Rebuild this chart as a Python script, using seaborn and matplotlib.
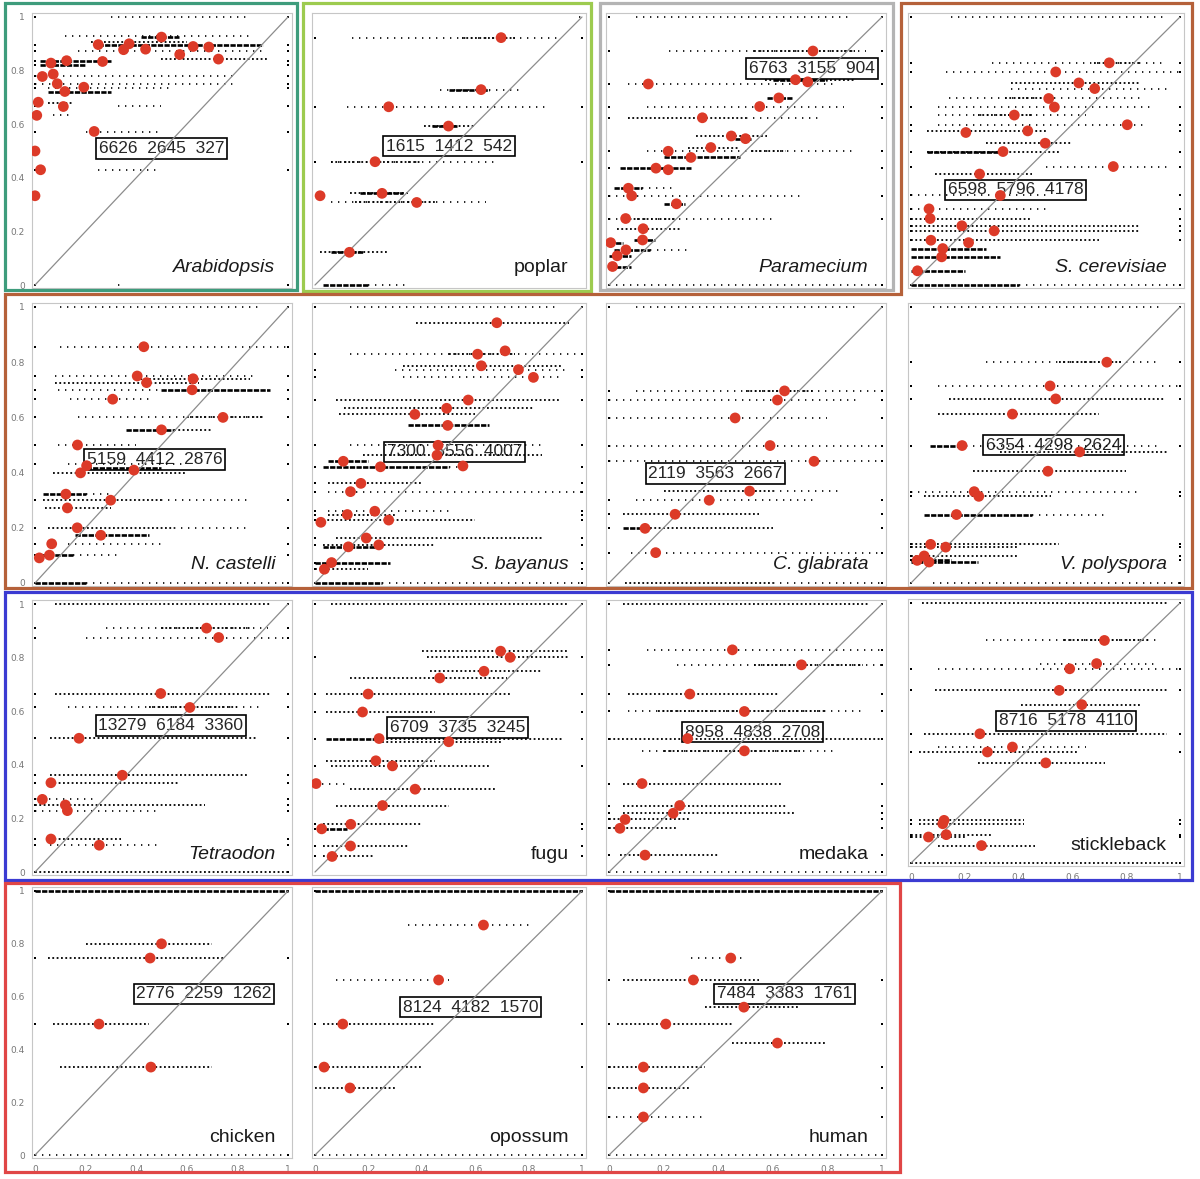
import matplotlib
matplotlib.use("Agg")
import matplotlib.pyplot as plt
from matplotlib.patches import Rectangle, Polygon
import seaborn as sns

sns.set_style("white")
plt.rcParams["font.family"] = ["DejaVu Sans"]

# ------------------ Dados ------------------ #
# linhas de pontos pretos: (y, x0, x1, densidade 0/1/2, pontos nas bordas 0/1)

ara_red_x = [0.50, 0.25, 0.372, 0.35, 0.437, 0.625, 0.687, 0.572, 0.725, 0.063, 0.125, 0.267,
             0.029, 0.072, 0.088, 0.118, 0.193, 0.112, 0.013, 0.007, 0.234, 0.0, 0.022, 0.0]
ara_red_y = [0.925, 0.897, 0.90, 0.878, 0.88, 0.89, 0.888, 0.86, 0.843, 0.828, 0.837, 0.834,
             0.778, 0.787, 0.751, 0.722, 0.738, 0.666, 0.682, 0.633, 0.573, 0.50, 0.43, 0.333]
ara_rows = [(1.0, 0.3, 0.85, 0, 1), (0.93, 0.12, 0.85, 0, 0), (0.925, 0.42, 0.57, 2, 0),
            (0.905, 0.22, 0.6, 1, 0), (0.895, 0.25, 0.9, 2, 1), (0.875, 0.17, 0.9, 0, 1),
            (0.843, 0.5, 0.92, 1, 0), (0.835, 0.02, 0.3, 2, 1), (0.82, 0.02, 0.2, 2, 1),
            (0.78, 0.0, 0.8, 0, 1), (0.75, 0.0, 0.8, 0, 1), (0.735, 0.05, 0.55, 0, 1),
            (0.72, 0.05, 0.3, 2, 0), (0.68, 0.05, 0.15, 1, 0), (0.667, 0.33, 0.5, 0, 1),
            (0.635, 0.07, 0.14, 0, 0), (0.57, 0.2, 0.5, 0, 1), (0.43, 0.25, 0.5, 0, 1),
            (0.0, 0.33, 0.34, 0, 1)]
ara_counts = [6626, 2645, 327]

pop_red_x = [0.697, 0.622, 0.276, 0.50, 0.225, 0.019, 0.251, 0.381, 0.129]
pop_red_y = [0.923, 0.729, 0.665, 0.593, 0.46, 0.333, 0.342, 0.308, 0.122]
pop_rows = [(1.0, 0.99, 1.0, 0, 0), (0.923, 0.14, 0.92, 0, 1), (0.923, 0.55, 0.75, 1, 0),
            (0.729, 0.47, 0.78, 0, 0), (0.729, 0.5, 0.65, 2, 0), (0.665, 0.12, 0.88, 0, 1),
            (0.593, 0.41, 0.6, 1, 0), (0.593, 0.44, 0.53, 2, 0), (0.46, 0.06, 0.67, 0, 1),
            (0.46, 0.06, 0.4, 1, 0), (0.342, 0.13, 0.35, 1, 0), (0.342, 0.17, 0.33, 2, 0),
            (0.308, 0.06, 0.64, 0, 0), (0.308, 0.15, 0.45, 1, 0), (0.122, 0.02, 0.27, 1, 0),
            (0.122, 0.06, 0.18, 2, 0), (0.0, 0.03, 0.2, 2, 0), (0.0, 0.2, 0.35, 0, 0)]
pop_counts = [1615, 1412, 542]

par_red_x = [0.747, 0.683, 0.728, 0.144, 0.622, 0.552, 0.342, 0.448, 0.50, 0.373, 0.217, 0.30,
             0.172, 0.217, 0.071, 0.083, 0.247, 0.061, 0.125, 0.123, 0.006, 0.062, 0.03, 0.013]
par_red_y = [0.873, 0.766, 0.758, 0.75, 0.698, 0.666, 0.624, 0.556, 0.546, 0.513, 0.499, 0.476,
             0.436, 0.43, 0.361, 0.333, 0.303, 0.248, 0.21, 0.168, 0.158, 0.131, 0.109, 0.069]
par_rows = [(1.0, 0.1, 0.88, 0, 1), (0.873, 0.22, 0.94, 0, 1), (0.873, 0.53, 0.9, 1, 0),
            (0.766, 0.57, 0.9, 1, 0), (0.766, 0.6, 0.8, 2, 0), (0.75, 0.07, 0.82, 0, 1),
            (0.698, 0.58, 0.67, 2, 0), (0.666, 0.14, 0.86, 0, 1), (0.624, 0.07, 0.5, 1, 1),
            (0.624, 0.5, 0.78, 0, 0), (0.556, 0.32, 0.58, 1, 0), (0.546, 0.46, 0.52, 2, 0),
            (0.513, 0.29, 0.48, 1, 0), (0.499, 0.14, 0.89, 0, 1), (0.499, 0.52, 0.65, 1, 0),
            (0.476, 0.2, 0.48, 2, 0), (0.436, 0.04, 0.3, 2, 1), (0.361, 0.02, 0.12, 2, 0),
            (0.361, 0.12, 0.25, 0, 0), (0.333, 0.0, 0.7, 0, 1), (0.303, 0.2, 0.28, 2, 0),
            (0.248, 0.0, 0.6, 0, 1), (0.248, 0.06, 0.25, 1, 0), (0.21, 0.03, 0.26, 1, 0),
            (0.168, 0.09, 0.17, 2, 0), (0.158, 0.0, 0.05, 2, 0), (0.131, 0.02, 0.15, 2, 0),
            (0.131, 0.15, 0.3, 0, 0), (0.109, 0.0, 0.08, 2, 0), (0.069, 0.0, 0.08, 2, 0),
            (0.0, 0.0, 1.0, 0, 1)]
par_counts = [6763, 3155, 904]

sce_red_x = [0.737, 0.538, 0.624, 0.683, 0.512, 0.533, 0.384, 0.804, 0.204, 0.434, 0.499, 0.342,
             0.752, 0.255, 0.332, 0.067, 0.071, 0.189, 0.309, 0.074, 0.214, 0.118, 0.114, 0.024]
sce_red_y = [0.829, 0.795, 0.754, 0.733, 0.696, 0.664, 0.634, 0.598, 0.569, 0.575, 0.529, 0.498,
             0.442, 0.414, 0.334, 0.284, 0.248, 0.221, 0.202, 0.167, 0.158, 0.136, 0.105, 0.053]
sce_rows = [(1.0, 0.15, 0.95, 0, 1), (0.829, 0.3, 0.95, 0, 1), (0.829, 0.68, 0.85, 1, 0),
            (0.795, 0.13, 1.0, 0, 1), (0.754, 0.37, 0.85, 1, 0), (0.733, 0.37, 0.95, 0, 0),
            (0.696, 0.14, 0.85, 0, 0), (0.696, 0.35, 0.5, 1, 0), (0.664, 0.1, 0.9, 0, 1),
            (0.634, 0.1, 0.65, 0, 0), (0.634, 0.25, 0.45, 1, 0), (0.598, 0.1, 0.87, 0, 1),
            (0.575, 0.06, 0.5, 1, 1), (0.529, 0.28, 0.6, 1, 0), (0.498, 0.06, 0.55, 1, 1),
            (0.498, 0.06, 0.35, 2, 0), (0.442, 0.5, 0.95, 0, 1), (0.414, 0.09, 0.45, 1, 0),
            (0.334, 0.0, 0.5, 0, 1), (0.284, 0.0, 0.5, 0, 1), (0.248, 0.0, 0.45, 1, 1),
            (0.221, 0.0, 0.85, 1, 1), (0.202, 0.0, 0.85, 1, 1), (0.167, 0.0, 0.7, 1, 1),
            (0.136, 0.0, 0.28, 2, 0), (0.105, 0.0, 0.33, 2, 0), (0.053, 0.0, 0.2, 2, 0),
            (0.0, 0.0, 0.4, 2, 1), (0.0, 0.4, 1.0, 0, 0)]
sce_counts = [6598, 5796, 4178]

nca_red_x = [0.43, 0.404, 0.441, 0.625, 0.621, 0.307, 0.743, 0.50, 0.168, 0.204, 0.18, 0.391,
             0.122, 0.299, 0.128, 0.167, 0.26, 0.066, 0.057, 0.017]
nca_red_y = [0.856, 0.75, 0.726, 0.74, 0.70, 0.666, 0.60, 0.555, 0.50, 0.425, 0.399, 0.409,
             0.322, 0.30, 0.272, 0.20, 0.173, 0.142, 0.101, 0.091]
nca_rows = [(1.0, 0.1, 0.9, 0, 1), (0.856, 0.1, 1.0, 0, 1), (0.75, 0.08, 0.88, 0, 1),
            (0.74, 0.4, 0.85, 1, 0), (0.726, 0.08, 0.65, 1, 0), (0.70, 0.09, 0.5, 0, 1),
            (0.70, 0.5, 0.93, 2, 0), (0.666, 0.14, 0.45, 0, 1), (0.60, 0.17, 0.9, 0, 1),
            (0.60, 0.6, 0.9, 1, 0), (0.555, 0.36, 0.55, 2, 0), (0.555, 0.55, 0.7, 1, 0),
            (0.50, 0.09, 0.4, 0, 1), (0.43, 0.13, 0.6, 0, 1), (0.415, 0.2, 0.5, 2, 0),
            (0.40, 0.07, 0.6, 1, 0), (0.322, 0.03, 0.2, 2, 0), (0.322, 0.2, 0.3, 0, 0),
            (0.30, 0.03, 0.5, 1, 1), (0.30, 0.5, 0.85, 0, 0), (0.272, 0.04, 0.3, 1, 0),
            (0.20, 0.05, 0.55, 1, 1), (0.20, 0.55, 0.85, 0, 0), (0.173, 0.16, 0.45, 2, 0),
            (0.142, 0.13, 0.5, 0, 1), (0.10, 0.0, 0.15, 2, 1), (0.10, 0.15, 0.33, 0, 0),
            (0.0, 0.0, 0.2, 2, 1), (0.0, 0.2, 1.0, 0, 0)]
nca_counts = [5159, 4412, 2876]

sba_red_x = [0.681, 0.609, 0.712, 0.623, 0.762, 0.818, 0.574, 0.493, 0.374, 0.497, 0.461, 0.457,
             0.554, 0.106, 0.245, 0.172, 0.133, 0.224, 0.121, 0.276, 0.022, 0.192, 0.239, 0.125,
             0.062, 0.035]
sba_red_y = [0.943, 0.829, 0.841, 0.787, 0.773, 0.745, 0.663, 0.633, 0.611, 0.571, 0.499, 0.463,
             0.424, 0.441, 0.421, 0.361, 0.331, 0.26, 0.248, 0.228, 0.22, 0.163, 0.138, 0.131,
             0.074, 0.05]
sba_rows = [(1.0, 0.13, 0.9, 0, 1), (0.943, 0.38, 0.95, 1, 0), (0.829, 0.13, 1.0, 0, 1),
            (0.829, 0.5, 0.75, 1, 0), (0.787, 0.33, 0.93, 1, 0), (0.773, 0.3, 0.95, 0, 1),
            (0.745, 0.33, 0.92, 0, 1), (0.663, 0.08, 0.92, 1, 1), (0.633, 0.11, 0.82, 1, 0),
            (0.611, 0.09, 0.6, 1, 0), (0.571, 0.35, 0.65, 2, 0), (0.499, 0.13, 0.85, 0, 1),
            (0.463, 0.18, 0.85, 1, 0), (0.441, 0.05, 0.2, 2, 0), (0.421, 0.03, 0.5, 2, 1),
            (0.421, 0.5, 0.55, 0, 0), (0.361, 0.05, 0.4, 1, 1), (0.331, 0.05, 1.0, 0, 1),
            (0.26, 0.05, 0.5, 0, 1), (0.248, 0.05, 0.3, 1, 1), (0.228, 0.03, 0.6, 1, 1),
            (0.163, 0.08, 0.85, 1, 1), (0.138, 0.03, 0.45, 1, 1), (0.131, 0.03, 0.25, 2, 0),
            (0.074, 0.0, 0.28, 2, 1), (0.05, 0.0, 0.2, 1, 1), (0.0, 0.0, 0.25, 2, 1),
            (0.0, 0.25, 1.0, 0, 0)]
sba_counts = [7300, 5556, 4007]

cgl_red_x = [0.643, 0.617, 0.462, 0.59, 0.751, 0.515, 0.367, 0.242, 0.132, 0.171]
cgl_red_y = [0.696, 0.663, 0.598, 0.498, 0.441, 0.333, 0.30, 0.249, 0.198, 0.11]
cgl_rows = [(1.0, 0.1, 0.92, 0, 1), (0.696, 0.1, 1.0, 0, 1), (0.696, 0.5, 0.75, 1, 0),
            (0.663, 0.0, 0.92, 0, 1), (0.598, 0.0, 0.8, 0, 1), (0.498, 0.0, 1.0, 0, 1),
            (0.441, 0.0, 1.0, 0, 1), (0.333, 0.2, 0.6, 1, 0), (0.333, 0.6, 0.85, 0, 0),
            (0.30, 0.1, 0.75, 0, 1), (0.249, 0.05, 0.55, 1, 1), (0.198, 0.05, 0.15, 2, 1),
            (0.198, 0.15, 0.6, 1, 0), (0.11, 0.08, 1.0, 0, 1), (0.0, 0.06, 0.6, 1, 0),
            (0.0, 0.6, 1.0, 0, 1)]
cgl_counts = [2119, 3563, 2667]

vpo_red_x = [0.728, 0.517, 0.538, 0.377, 0.19, 0.627, 0.509, 0.235, 0.252, 0.169, 0.073, 0.129,
             0.049, 0.023, 0.067]
vpo_red_y = [0.80, 0.714, 0.667, 0.612, 0.498, 0.475, 0.405, 0.331, 0.314, 0.248, 0.14, 0.13,
             0.098, 0.082, 0.076]
vpo_rows = [(1.0, 0.08, 0.93, 0, 1), (0.80, 0.28, 0.93, 0, 1), (0.80, 0.55, 0.78, 1, 0),
            (0.714, 0.1, 1.0, 0, 1), (0.667, 0.14, 0.94, 1, 1), (0.612, 0.1, 0.7, 1, 0),
            (0.498, 0.07, 0.18, 2, 1), (0.498, 0.18, 0.92, 0, 0), (0.475, 0.33, 0.95, 1, 0),
            (0.405, 0.23, 0.8, 1, 0), (0.331, 0.0, 0.85, 0, 1), (0.314, 0.05, 0.52, 1, 1),
            (0.248, 0.05, 0.45, 2, 0), (0.248, 0.45, 0.72, 0, 0), (0.14, 0.0, 0.55, 1, 1),
            (0.13, 0.0, 0.4, 1, 1), (0.098, 0.0, 0.4, 1, 1), (0.082, 0.0, 0.15, 2, 1),
            (0.076, 0.0, 0.25, 2, 0), (0.0, 0.08, 1.0, 0, 1)]
vpo_counts = [6354, 4298, 2624]

tet_red_x = [0.678, 0.726, 0.497, 0.612, 0.174, 0.345, 0.063, 0.029, 0.12, 0.128, 0.063, 0.254]
tet_red_y = [0.91, 0.875, 0.666, 0.614, 0.499, 0.361, 0.333, 0.271, 0.25, 0.229, 0.123, 0.10]
tet_rows = [(1.0, 0.08, 0.93, 1, 1), (0.91, 0.28, 0.92, 0, 1), (0.91, 0.5, 0.85, 1, 0),
            (0.875, 0.2, 1.0, 0, 1), (0.666, 0.08, 0.93, 1, 1), (0.614, 0.13, 0.9, 0, 1),
            (0.614, 0.45, 0.8, 1, 0), (0.499, 0.06, 0.88, 1, 1), (0.361, 0.06, 0.84, 1, 1),
            (0.333, 0.06, 0.57, 1, 1), (0.271, 0.0, 0.25, 0, 1), (0.25, 0.0, 0.67, 1, 1),
            (0.229, 0.0, 0.5, 0, 1), (0.123, 0.06, 0.34, 1, 1), (0.10, 0.06, 0.5, 0, 1),
            (0.0, 0.0, 1.0, 1, 1)]
tet_counts = [13279, 6184, 3360]

fug_red_x = [0.695, 0.731, 0.633, 0.467, 0.199, 0.178, 0.24, 0.501, 0.228, 0.29, 0.004, 0.375,
             0.253, 0.134, 0.025, 0.133, 0.064]
fug_red_y = [0.824, 0.801, 0.749, 0.724, 0.664, 0.597, 0.498, 0.486, 0.415, 0.396, 0.33, 0.309,
             0.248, 0.178, 0.161, 0.097, 0.058]
fug_rows = [(1.0, 0.06, 0.95, 1, 1), (0.824, 0.4, 0.95, 1, 0), (0.801, 0.42, 0.95, 1, 1),
            (0.749, 0.43, 0.85, 1, 0), (0.724, 0.13, 0.72, 1, 0), (0.664, 0.04, 0.73, 1, 1),
            (0.597, 0.04, 0.45, 1, 1), (0.498, 0.04, 0.25, 2, 1), (0.498, 0.25, 0.93, 1, 0),
            (0.486, 0.25, 0.7, 1, 0), (0.415, 0.04, 0.45, 1, 0), (0.396, 0.06, 0.65, 1, 1),
            (0.33, 0.0, 0.13, 0, 0), (0.309, 0.13, 0.68, 1, 0), (0.248, 0.08, 0.5, 1, 0),
            (0.178, 0.03, 0.4, 1, 1), (0.161, 0.03, 0.12, 2, 1), (0.097, 0.03, 0.35, 1, 1),
            (0.058, 0.03, 0.22, 1, 1)]
fug_counts = [6709, 3735, 3245]

med_red_x = [0.452, 0.705, 0.296, 0.496, 0.288, 0.496, 0.121, 0.259, 0.235, 0.059, 0.04, 0.132]
med_red_y = [0.829, 0.773, 0.664, 0.599, 0.498, 0.452, 0.33, 0.248, 0.219, 0.196, 0.163, 0.063]
med_rows = [(1.0, 0.05, 0.95, 1, 1), (0.829, 0.14, 1.0, 0, 1), (0.773, 0.25, 1.0, 0, 1),
            (0.773, 0.53, 0.93, 1, 0), (0.664, 0.07, 0.62, 1, 1), (0.599, 0.07, 0.93, 0, 1),
            (0.599, 0.18, 0.8, 1, 0), (0.498, 0.0, 1.0, 1, 1), (0.452, 0.12, 0.84, 0, 0),
            (0.452, 0.2, 0.7, 1, 0), (0.33, 0.05, 0.63, 1, 1), (0.248, 0.05, 0.65, 1, 1),
            (0.219, 0.05, 0.68, 1, 1), (0.196, 0.0, 0.3, 1, 1), (0.163, 0.0, 0.25, 1, 1),
            (0.063, 0.04, 0.4, 1, 1), (0.0, 0.0, 1.0, 0, 1)]
med_counts = [8958, 4838, 2708]

sti_red_x = [0.719, 0.69, 0.59, 0.551, 0.635, 0.256, 0.377, 0.284, 0.501, 0.123, 0.118, 0.131,
             0.065, 0.262]
sti_red_y = [0.856, 0.767, 0.747, 0.664, 0.609, 0.497, 0.446, 0.427, 0.385, 0.164, 0.151, 0.109,
             0.10, 0.067]
sti_rows = [(1.0, 0.04, 0.95, 1, 1), (0.856, 0.28, 0.93, 0, 0), (0.856, 0.57, 0.88, 1, 0),
            (0.767, 0.48, 0.92, 0, 0), (0.747, 0.1, 1.0, 0, 1), (0.664, 0.09, 0.95, 1, 1),
            (0.609, 0.41, 0.85, 1, 0), (0.497, 0.05, 0.95, 1, 1), (0.446, 0.1, 0.65, 0, 0),
            (0.427, 0.03, 0.62, 1, 1), (0.385, 0.25, 0.72, 1, 0), (0.164, 0.03, 0.42, 1, 1),
            (0.151, 0.03, 0.42, 1, 1), (0.109, 0.0, 0.3, 1, 1), (0.10, 0.0, 0.2, 1, 1),
            (0.067, 0.1, 0.46, 1, 0), (0.0, 0.0, 1.0, 1, 1)]
sti_counts = [8716, 5178, 4110]

chi_red_x = [0.50, 0.455, 0.253, 0.458]
chi_red_y = [0.80, 0.746, 0.496, 0.333]
chi_rows = [(1.0, 0.0, 1.0, 2, 1), (0.80, 0.2, 0.7, 1, 0), (0.746, 0.05, 0.75, 1, 1),
            (0.496, 0.07, 0.45, 1, 1), (0.333, 0.1, 0.7, 1, 0), (0.0, 0.0, 1.0, 0, 1)]
chi_counts = [2776, 2259, 1262]

opo_red_x = [0.631, 0.463, 0.104, 0.034, 0.131]
opo_red_y = [0.871, 0.663, 0.496, 0.333, 0.254]
opo_rows = [(1.0, 0.0, 1.0, 2, 1), (0.871, 0.35, 0.8, 0, 0), (0.663, 0.08, 0.5, 0, 0),
            (0.496, 0.03, 0.45, 1, 1), (0.333, 0.0, 0.4, 1, 1), (0.254, 0.0, 0.3, 1, 0),
            (0.0, 0.0, 1.0, 0, 1)]
opo_counts = [8124, 4182, 1570]

hum_red_x = [0.446, 0.309, 0.494, 0.208, 0.617, 0.126, 0.126, 0.126]
hum_red_y = [0.746, 0.663, 0.56, 0.496, 0.424, 0.333, 0.254, 0.144]
hum_rows = [(1.0, 0.0, 1.0, 2, 1), (0.746, 0.3, 0.5, 0, 0), (0.663, 0.05, 0.55, 1, 1),
            (0.56, 0.35, 0.7, 1, 0), (0.496, 0.03, 0.45, 1, 1), (0.424, 0.45, 0.8, 1, 0),
            (0.333, 0.0, 0.35, 1, 1), (0.254, 0.0, 0.3, 1, 1), (0.144, 0.0, 0.35, 0, 1),
            (0.0, 0.0, 1.0, 0, 1)]
hum_counts = [7484, 3383, 1761]

tick_vals = [0, 0.2, 0.4, 0.6, 0.8, 1]
tick_text = ["0", "0.2", "0.4", "0.6", "0.8", "1"]

# ------------------ Layout (pixels) ------------------ #
W, H = 1200, 1179
COLS = [(35, 288), (315, 582), (609, 882), (911, 1180)]
ROWS = [(17, 285), (307, 583), (604, 872), (891, 1155)]

# name, italic, red_x, red_y, rows, counts, grid pos, label pos, y labels, x labels
paineis = [
    ("Arabidopsis", True, ara_red_x, ara_red_y, ara_rows, ara_counts, (0, 0), (0.50, 0.51), True, False),
    ("poplar", False, pop_red_x, pop_red_y, pop_rows, pop_counts, (0, 1), (0.503, 0.518), False, False),
    ("Paramecium", True, par_red_x, par_red_y, par_rows, par_counts, (0, 2), (0.744, 0.808), False, False),
    ("S. cerevisiae", True, sce_red_x, sce_red_y, sce_rows, sce_counts, (0, 3), (0.388, 0.355), False, False),
    ("N. castelli", True, nca_red_x, nca_red_y, nca_rows, nca_counts, (1, 0), (0.472, 0.447), True, False),
    ("S. bayanus", True, sba_red_x, sba_red_y, sba_rows, sba_counts, (1, 1), (0.522, 0.475), False, False),
    ("C. glabrata", True, cgl_red_x, cgl_red_y, cgl_rows, cgl_counts, (1, 2), (0.39, 0.397), False, False),
    ("V. polyspora", True, vpo_red_x, vpo_red_y, vpo_rows, vpo_counts, (1, 3), (0.531, 0.50), False, False),
    ("Tetraodon", True, tet_red_x, tet_red_y, tet_rows, tet_counts, (2, 0), (0.537, 0.547), True, False),
    ("fugu", False, fug_red_x, fug_red_y, fug_rows, fug_counts, (2, 1), (0.533, 0.54), False, False),
    ("medaka", False, med_red_x, med_red_y, med_rows, med_counts, (2, 2), (0.525, 0.522), False, False),
    ("stickleback", False, sti_red_x, sti_red_y, sti_rows, sti_counts, (2, 3), (0.576, 0.547), False, True),
    ("chicken", False, chi_red_x, chi_red_y, chi_rows, chi_counts, (3, 0), (0.668, 0.61), True, True),
    ("opossum", False, opo_red_x, opo_red_y, opo_rows, opo_counts, (3, 1), (0.582, 0.56), False, True),
    ("human", False, hum_red_x, hum_red_y, hum_rows, hum_counts, (3, 2), (0.643, 0.61), False, True),
]

LO, HI = -0.01, 1.015
ESTILOS = {0: dict(linewidths=1.2, linestyles=[(0, (0.8, 3.4))]),
           1: dict(linewidths=1.3, linestyles=[(0, (1.0, 1.4))]),
           2: dict(linewidths=1.9, linestyles=[(0, (2.0, 0.5))])}


def retangulo_eixo(xpx, ypx):
    """Converte posições em pixels dos valores 0 e 1 em retângulo de figura."""
    x0, x1 = xpx
    ytop, ybot = ypx
    sx, sy = x1 - x0, ybot - ytop
    left = x0 + LO * sx
    right = x0 + HI * sx
    bottom = ybot - LO * sy
    top = ybot - HI * sy
    return [left / W, 1 - bottom / H, (right - left) / W, (bottom - top) / H]


def desenhar_painel(ax, nome, italico, red_x, red_y, linhas, contagens, pos_label, ylab, xlab):
    for y, x0, x1, w, borda in linhas:
        ax.hlines(y, x0, x1, colors="black", zorder=4, **ESTILOS[w])
        if borda:
            ax.scatter([0, 1], [y, y], s=3.5, marker="s", color="black", lw=0, zorder=4)
    ax.plot([0, 1], [0, 1], color="#8c8c8c", lw=0.9, zorder=4)
    sns.scatterplot(x=red_x, y=red_y, color="#dc3a28", s=60, edgecolor="none",
                    ax=ax, zorder=6, legend=False)

    texto = "  ".join(str(c) for c in contagens)
    ax.text(pos_label[0], pos_label[1], texto, ha="center", va="center", fontsize=12.5,
            family="Liberation Sans", zorder=3,
            bbox=dict(boxstyle="square,pad=0.16", fc="white", ec="black", lw=1.2))
    ax.text(0.95, 0.05, nome, ha="right", va="baseline", fontsize=14,
            family="Liberation Sans", style="italic" if italico else "normal",
            color="#1a1a1a", zorder=7)

    ax.set_xlim(LO, HI)
    ax.set_ylim(LO, HI)
    ax.set_xticks(tick_vals)
    ax.set_yticks(tick_vals)
    ax.set_xticklabels(tick_text if xlab else [])
    ax.set_yticklabels(tick_text if ylab else [])
    ax.tick_params(length=2.5, width=0.6, color="#aaaaaa", labelsize=6.5,
                   labelcolor="#777777", pad=3)
    for sp in ax.spines.values():
        sp.set_color("#c6c6c6")
        sp.set_linewidth(0.8)


fig = plt.figure(figsize=(12, 11.79), dpi=100)
fig.patch.set_facecolor("white")

for nome, italico, rx, ry, linhas, cont, (r, c), pos_label, ylab, xlab in paineis:
    ypx = (603, 863) if nome == "stickleback" else ROWS[r]
    ax = fig.add_axes(retangulo_eixo(COLS[c], ypx))
    desenhar_painel(ax, nome, italico, rx, ry, linhas, cont, pos_label, ylab, xlab)

# ------------------ Caixas coloridas dos grupos ------------------ #
ov = fig.add_axes([0, 0, 1, 1], zorder=10)
ov.set_xlim(0, W)
ov.set_ylim(H, 0)
ov.axis("off")
ov.patch.set_alpha(0)

caixas = [((5, 3), 292, 287, "#3e9c7c"),
          ((303, 3), 288, 288, "#9dcb4f"),
          ((600, 3), 293, 287, "#b4b4b4"),
          ((5, 592), 1187, 288, "#3b3bd2"),
          ((5, 883), 895, 289, "#e04646")]
for (x, y), w, h, cor in caixas:
    ov.add_patch(Rectangle((x, y), w, h, fill=False, ec=cor, lw=2.3))

ov.add_patch(Polygon([(901, 3), (1192, 3), (1192, 588), (5, 588), (5, 294), (901, 294)],
                     closed=True, fill=False, ec="#b5613a", lw=2.3))

fig.savefig("out.png", dpi=100, facecolor="white")
plt.close()
